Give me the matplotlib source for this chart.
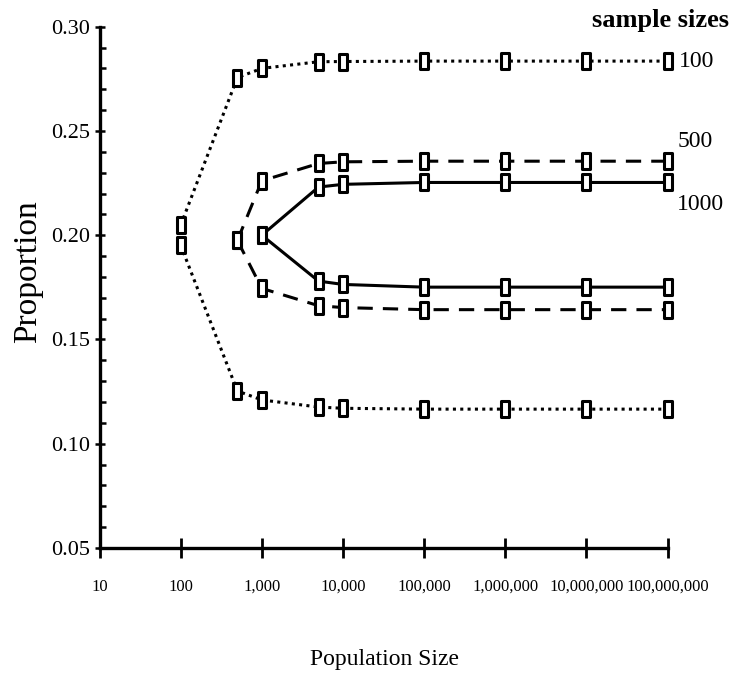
import numpy as np
import matplotlib
matplotlib.use("Agg")
import matplotlib.pyplot as plt
from matplotlib.path import Path
from matplotlib.ticker import FixedLocator, MultipleLocator

plt.rcParams['font.family'] = ['Liberation Serif', 'DejaVu Serif']

# Data
pop_sizes = [100, 500, 1000, 5000, 10000, 100000, 1000000, 10000000, 100000000]

# sample size 100 (dotted)
n100_x = [100, 500, 1000, 5000, 10000, 100000, 1000000, 10000000, 100000000]
n100_upper = [0.2048, 0.2756, 0.2800, 0.2832, 0.2833, 0.2835, 0.2835, 0.2835, 0.2835]
n100_lower = [0.1952, 0.1253, 0.1210, 0.1176, 0.1170, 0.1166, 0.1166, 0.1166, 0.1166]

# sample size 500 (dashed)
n500_x = [500, 1000, 5000, 10000, 100000, 1000000, 10000000, 100000000]
n500_upper = [0.1975, 0.2261, 0.2344, 0.2352, 0.2355, 0.2355, 0.2355, 0.2355]
n500_lower = [0.1975, 0.1745, 0.1662, 0.1653, 0.1643, 0.1643, 0.1643, 0.1643]

# sample size 1000 (solid)
n1000_x = [1000, 5000, 10000, 100000, 1000000, 10000000, 100000000]
n1000_upper = [0.2000, 0.2231, 0.2244, 0.2253, 0.2253, 0.2253, 0.2253]
n1000_lower = [0.2000, 0.1780, 0.1764, 0.1751, 0.1751, 0.1751, 0.1751]

x_ticks = [10, 100, 1000, 10000, 100000, 1000000, 10000000, 100000000]
x_tick_labels = ['10', '100', '1,000', '10,000', '100,000', '1,000,000',
                 '10,000,000', '100,000,000']
y_ticks = [0.05, 0.10, 0.15, 0.20, 0.25, 0.30]
y_tick_labels = ['0.05', '0.10', '0.15', '0.20', '0.25', '0.30']
series_labels = ['100', '500', '1000']

W, H = 732, 679
fig = plt.figure(figsize=(W / 100, H / 100), dpi=100)

ax = fig.add_axes([99.5 / W, (H - 548) / H, (667.6 - 99.5) / W, (548 - 26.7) / H])

rect = Path([(-0.22, -0.5), (0.22, -0.5), (0.22, 0.5), (-0.22, 0.5), (-0.22, -0.5)],
            [Path.MOVETO, Path.LINETO, Path.LINETO, Path.LINETO, Path.CLOSEPOLY])

lw = 2.2
mk = dict(marker=rect, markersize=11.5, markerfacecolor='white',
          markeredgecolor='black', markeredgewidth=2.2, color='black', clip_on=False)

dotted = (0, (1, 1.4))
dashed = (0, (5, 3.3))
ax.plot(n100_x, n100_upper, linestyle=dotted, lw=lw, **mk)
ax.plot(n100_x, n100_lower, linestyle=dotted, lw=lw, **mk)
ax.plot(n500_x, n500_upper, linestyle=dashed, lw=lw, **mk)
ax.plot(n500_x, n500_lower, linestyle=dashed, lw=lw, **mk)
ax.plot(n1000_x, n1000_upper, linestyle='-', lw=lw, **mk)
ax.plot(n1000_x, n1000_lower, linestyle='-', lw=lw, **mk)

ax.set_xscale('log')
ax.set_xlim(10, 1e8)
ax.set_ylim(0.05, 0.30)

ax.xaxis.set_major_locator(FixedLocator(x_ticks))
ax.xaxis.set_minor_locator(FixedLocator([]))
ax.set_xticklabels(x_tick_labels, fontsize=12)
ax.set_yticks(y_ticks)
ax.set_yticklabels(y_tick_labels, fontsize=16)
ax.yaxis.set_minor_locator(MultipleLocator(0.01))

for s in ['top', 'right']:
    ax.spines[s].set_visible(False)
for s in ['left', 'bottom']:
    ax.spines[s].set_linewidth(2.4)

ax.tick_params(axis='x', which='major', direction='inout', length=14, width=2.0, pad=15)
ax.tick_params(axis='y', which='major', direction='inout', length=7, width=1.8, pad=3)
ax.tick_params(axis='y', which='minor', direction='in', length=4, width=1.8)

fig.text(384 / W, 1 - 660 / H, 'Population Size', fontsize=17, ha='center', va='center')
fig.text(28 / W, 1 - 272 / H, 'Proportion', fontsize=24, rotation=90, ha='center', va='center')
fig.text(729 / W, 1 - 20 / H, 'sample sizes', fontsize=19, fontweight='bold',
         ha='right', va='center')

ax.annotate(series_labels[0], xy=(n100_x[-1], n100_upper[-1]), xytext=(8, 0),
            textcoords='offset points', fontsize=17, ha='left', va='center',
            annotation_clip=False)
ax.annotate(series_labels[1], xy=(n500_x[-1], n500_upper[-1]), xytext=(7, 14),
            textcoords='offset points', fontsize=17, ha='left', va='center',
            annotation_clip=False)
ax.annotate(series_labels[2], xy=(n1000_x[-1], n1000_upper[-1]), xytext=(7, -16),
            textcoords='offset points', fontsize=17, ha='left', va='center',
            annotation_clip=False)

fig.savefig('out.png', dpi=100)
